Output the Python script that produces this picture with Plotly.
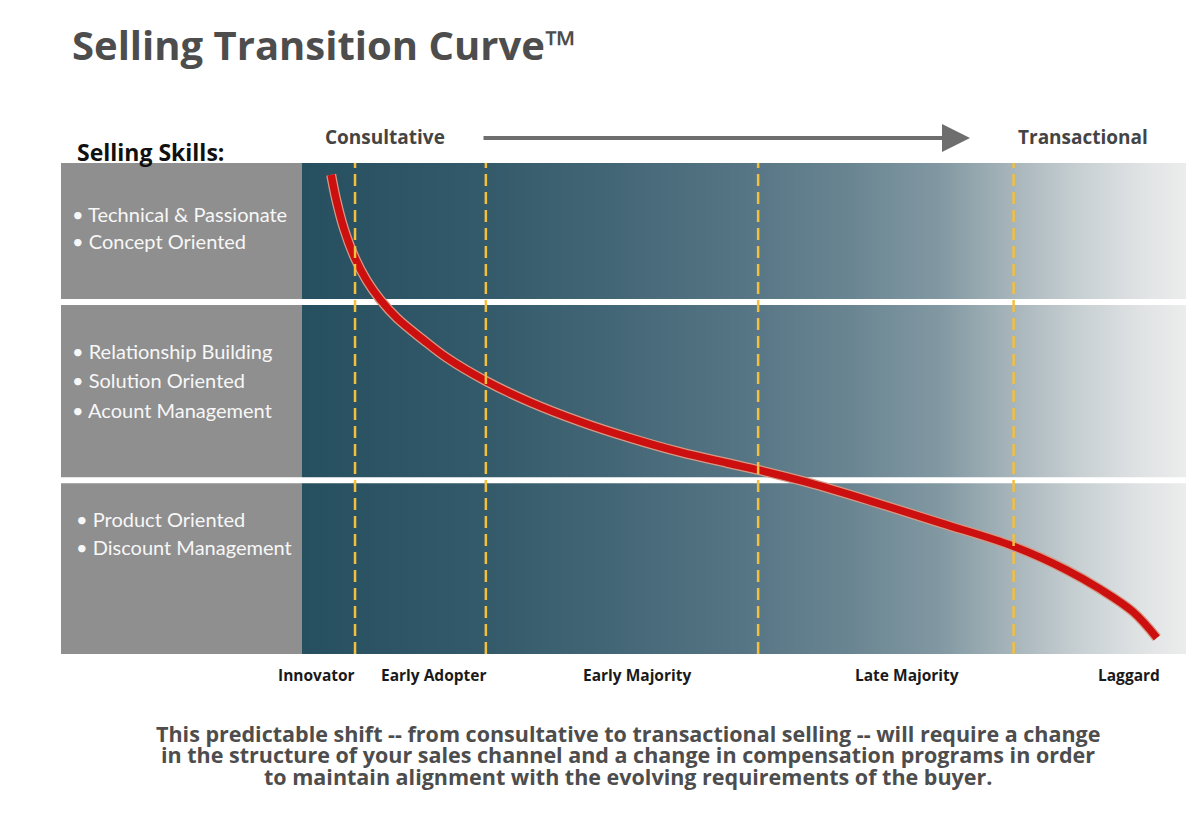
import numpy as np
import plotly.graph_objects as go

# ---------------- data ----------------
title = "Selling Transition Curve™"
stage_labels = ["Innovator", "Early Adopter", "Early Majority", "Late Majority", "Laggard"]
stage_label_x = [1.6, 14.9, 37.9, 68.4, 93.6]          # % of market axis
stage_boundaries = [6.0, 20.8, 51.6, 80.5]              # % of market axis
band_separators = [71.7, 35.4]                          # skill axis (0-100)

skill_groups = [
    ["Technical & Passionate", "Concept Oriented"],
    ["Relationship Building", "Solution Oriented", "Acount Management"],
    ["Product Oriented", "Discount Management"],
]

curve_x = [3.3, 3.85, 4.75, 6.0, 7.35, 8.8, 10.75, 13.7, 16.4, 20.8, 25.8, 31.5, 37.1,
           42.8, 48.1, 51.6, 57.1, 64.6, 72.2, 80.4, 86.5, 90.3, 94.0, 96.7]
curve_y = [97.6, 92.7, 86.6, 80.6, 76.0, 72.3, 68.4, 64.0, 60.3, 55.6, 51.3, 47.3, 44.0,
           41.1, 38.9, 37.5, 35.0, 31.0, 26.7, 22.0, 17.1, 13.2, 8.6, 3.3]

footer_lines = [
    "This predictable shift -- from consultative to transactional selling -- will require a change",
    "in the structure of your sales channel and a change in compensation programs in order",
    "to maintain alignment with the evolving requirements of the buyer.",
]

# ---------------- layout helpers ----------------
W, H = 1200, 828
def px(x):
    return x / W
def py(y):
    return 1 - y / H

FONT = "'Open Sans', Lato, sans-serif"
FONT_LIGHT = "Lato, 'Open Sans', sans-serif"

fig = go.Figure()

# gradient background
gx = np.linspace(0, 100, 200)
grad_scale = [
    [0.00, "#264f60"], [0.20, "#335a6a"], [0.35, "#436676"], [0.50, "#567584"],
    [0.62, "#6a8592"], [0.72, "#8198a2"], [0.80, "#a6b4ba"], [0.88, "#c8d0d3"],
    [0.95, "#e0e3e4"], [1.00, "#ececec"],
]
fig.add_trace(go.Heatmap(x=gx, y=[0, 100], z=[gx, gx], colorscale=grad_scale,
                         zmin=0, zmax=100, showscale=False, hoverinfo="skip",
                         zsmooth="best"))

# white separators in plot area
for s in band_separators:
    fig.add_trace(go.Scatter(x=[0, 100], y=[s, s], mode="lines",
                             line=dict(color="white", width=6),
                             hoverinfo="skip", showlegend=False))

# red curve (edge + core)
fig.add_trace(go.Scatter(x=curve_x, y=curve_y, mode="lines",
                         line=dict(color="#d59a86", width=10, shape="spline", smoothing=1.0),
                         hoverinfo="skip", showlegend=False))
fig.add_trace(go.Scatter(x=curve_x, y=curve_y, mode="lines",
                         line=dict(color="#cc1010", width=7.5, shape="spline", smoothing=1.0),
                         hoverinfo="skip", showlegend=False))

# yellow dashed stage boundaries
for b in stage_boundaries:
    fig.add_trace(go.Scatter(x=[b, b], y=[0, 100], mode="lines",
                             line=dict(color="#f2bf3e", width=2.5, dash="12px,6px"),
                             hoverinfo="skip", showlegend=False))

shapes = []
# left grey panel
shapes.append(dict(type="rect", xref="paper", yref="y", x0=px(61), x1=px(302),
                   y0=0, y1=100, fillcolor="#8f8f8f", line=dict(width=0), layer="below"))
for s in band_separators:
    shapes.append(dict(type="line", xref="paper", yref="y", x0=px(61), x1=px(302),
                       y0=s, y1=s, line=dict(color="white", width=6)))

annotations = []
# title
annotations.append(dict(xref="paper", yref="paper", x=px(70), y=py(44), text=f"<b>{title}</b>",
                        showarrow=False, xanchor="left", yanchor="middle",
                        font=dict(family=FONT, size=40, color="#4d4d4d")))
annotations.append(dict(xref="paper", yref="paper", x=px(75), y=py(152), text="<b>Selling Skills:</b>",
                        showarrow=False, xanchor="left", yanchor="middle",
                        font=dict(family=FONT, size=23, color="#111111")))
annotations.append(dict(xref="paper", yref="paper", x=px(323), y=py(137), text="<b>Consultative</b>",
                        showarrow=False, xanchor="left", yanchor="middle",
                        font=dict(family=FONT, size=19, color="#444444")))
annotations.append(dict(xref="paper", yref="paper", x=px(1016), y=py(137), text="<b>Transactional</b>",
                        showarrow=False, xanchor="left", yanchor="middle",
                        font=dict(family=FONT, size=19, color="#444444")))
# arrow
annotations.append(dict(xref="paper", yref="paper", x=px(970), y=py(138), text="",
                        showarrow=True, ax=-(970 - 482), ay=0, arrowhead=2, arrowsize=1.4,
                        arrowwidth=4, arrowcolor="#6e6e6e", standoff=0))

# bullet texts
bullet_pos = [
    [(70, 214), (70, 241)],
    [(70, 351), (70, 380), (70, 410)],
    [(74, 519), (74, 547)],
]
for group, pos in zip(skill_groups, bullet_pos):
    for item, (bx, by) in zip(group, pos):
        annotations.append(dict(xref="paper", yref="paper", x=px(bx), y=py(by),
                                text="• " + item, showarrow=False, xanchor="left",
                                yanchor="middle",
                                font=dict(family=FONT_LIGHT, size=20, color="#f7f7f7")))

# stage labels
for lab, lx in zip(stage_labels, stage_label_x):
    annotations.append(dict(xref="x", yref="paper", x=lx, y=py(675), text=f"<b>{lab}</b>",
                            showarrow=False, xanchor="center", yanchor="middle",
                            font=dict(family=FONT, size=15.5, color="#1a1a1a")))

# footer
for i, line in enumerate(footer_lines):
    annotations.append(dict(xref="paper", yref="paper", x=px(628), y=py(733 + 21.5 * i),
                            text=f"<b>{line}</b>", showarrow=False, xanchor="center",
                            yanchor="middle",
                            font=dict(family=FONT, size=21.5, color="#4d4d4d")))

fig.update_layout(
    width=W, height=H, margin=dict(l=0, r=0, t=0, b=0),
    paper_bgcolor="white", plot_bgcolor="white", showlegend=False,
    xaxis=dict(domain=[px(302), px(1186)], range=[0, 100], visible=False, fixedrange=True),
    yaxis=dict(domain=[py(654), py(163)], range=[0, 100], visible=False, fixedrange=True),
    shapes=shapes, annotations=annotations,
)

fig.write_html("out.html", config={"displayModeBar": False},
               post_script="document.body.style.margin='0px';")
